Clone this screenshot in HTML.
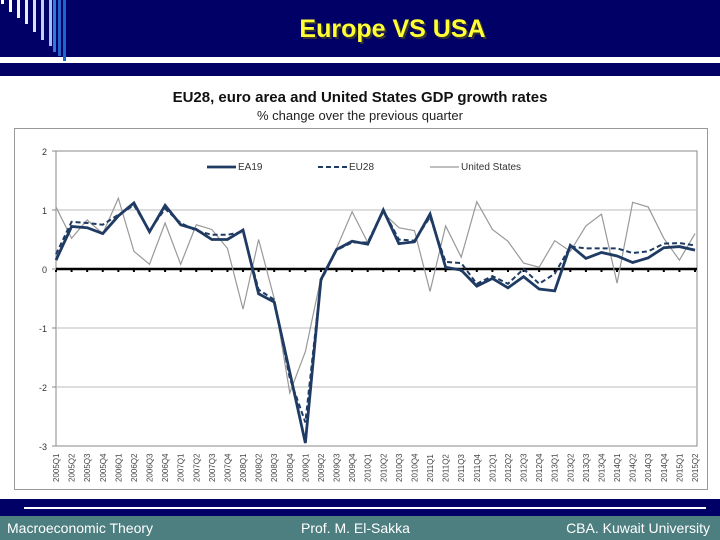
<!DOCTYPE html>
<html><head><meta charset="utf-8"><style>
body{margin:0;width:720px;height:540px;overflow:hidden;background:#fff;font-family:"Liberation Sans",sans-serif;position:relative}
.abs{position:absolute}
</style></head><body>
<div class="abs" style="left:0;top:0;width:720px;height:57px;background:#000066"></div>
<div class="abs" style="left:0;top:57px;width:720px;height:6px;background:#fff"></div>
<div class="abs" style="left:0;top:63px;width:720px;height:13px;background:#000066"></div>
<svg class="abs" style="left:0;top:0" width="80" height="64">
<rect x="1" y="0" width="3" height="4" fill="#fff"/>
<rect x="9" y="0" width="3" height="12" fill="#fff"/>
<rect x="17" y="0" width="3" height="18" fill="#f4f4ff"/>
<rect x="25" y="0" width="3" height="24" fill="#e8eeff"/>
<rect x="33" y="0" width="3" height="32" fill="#d6e2ff"/>
<rect x="41" y="0" width="3" height="40" fill="#bcd0ff"/>
<rect x="49" y="0" width="3" height="46" fill="#9fbfff"/>
<rect x="53" y="0" width="3" height="52" fill="#3377dd"/>
<rect x="58" y="0" width="3" height="56" fill="#2266cc"/>
<rect x="63" y="0" width="3" height="61" fill="#1a66cc"/>
</svg>
<div class="abs" style="left:0;width:720px;top:15px;text-align:center;padding-left:65px;box-sizing:border-box;font-size:25px;font-weight:bold;color:#ffff33;text-shadow:2px 2px 0 #333">Europe VS USA</div>
<div class="abs" style="left:14px;top:128px;width:694px;height:362px;border:1px solid #999;box-sizing:border-box"></div>
<div class="abs" style="left:0;width:720px;top:89px;text-align:center;font-size:15px;font-weight:bold;color:#111">EU28, euro area and United States GDP growth rates</div>
<div class="abs" style="left:0;width:720px;top:108px;text-align:center;font-size:13px;color:#222">% change over the previous quarter</div>
<svg id="chart" class="abs" style="left:0;top:0" width="720" height="540"></svg>
<div class="abs" style="left:0;top:499px;width:720px;height:17px;background:#000066"></div>
<div class="abs" style="left:24px;top:507px;width:682px;height:2px;background:#fff"></div>
<div class="abs" style="left:0;top:516px;width:720px;height:24px;background:#4e7f80"></div>
<div class="abs" style="left:7px;top:520px;font-size:14px;color:#fff">Macroeconomic Theory</div>
<div class="abs" style="left:301px;top:520px;font-size:14px;color:#fff">Prof. M. El-Sakka</div>
<div class="abs" style="right:10px;top:520px;font-size:14px;color:#fff">CBA. Kuwait University</div>
<script>
const categories=[];for(let y=2005;y<=2015;y++)for(let q=1;q<=4;q++){if(y===2015&&q>2)break;categories.push(y+'Q'+q);}
const ea19=[0.15,0.72,0.7,0.6,0.9,1.12,0.63,1.08,0.75,0.67,0.5,0.5,0.66,-0.42,-0.56,-1.75,-2.95,-0.18,0.33,0.47,0.42,1.0,0.43,0.46,0.93,0.03,-0.02,-0.29,-0.16,-0.32,-0.13,-0.34,-0.37,0.4,0.18,0.28,0.22,0.11,0.19,0.36,0.38,0.32];
const eu28=[0.25,0.8,0.78,0.75,0.92,1.08,0.65,1.02,0.78,0.65,0.58,0.58,0.63,-0.35,-0.52,-1.85,-2.6,-0.2,0.32,0.45,0.45,1.0,0.5,0.48,0.88,0.12,0.1,-0.25,-0.12,-0.25,0.0,-0.25,-0.08,0.38,0.35,0.35,0.35,0.27,0.3,0.43,0.44,0.4];
const usa=[1.05,0.52,0.83,0.6,1.2,0.3,0.08,0.78,0.08,0.75,0.67,0.35,-0.68,0.5,-0.5,-2.1,-1.4,-0.15,0.35,0.97,0.45,0.95,0.7,0.65,-0.38,0.73,0.2,1.14,0.67,0.47,0.1,0.03,0.48,0.3,0.73,0.93,-0.24,1.13,1.05,0.52,0.15,0.6];
const yTicks=[2,1,0,-1,-2,-3];
const NS='http://www.w3.org/2000/svg';
const svg=document.getElementById('chart');
const X0=56,X1=695,Y0=151,Y1=446;
const xs=i=>X0+(X1-X0)*i/(categories.length-1);
const ys=v=>Y0+(2-v)*(Y1-Y0)/5;
function mk(tag,attrs){const e=document.createElementNS(NS,tag);for(const k in attrs)e.setAttribute(k,attrs[k]);svg.appendChild(e);return e;}
const plot=mk('rect',{x:X0,y:Y0,width:X1-X0+2,height:Y1-Y0,fill:'none',stroke:'#888','stroke-width':1});


yTicks.forEach(t=>{
  if(t!==0&&t!==2&&t!==-3){const g=mk('line',{x1:X0,x2:X1+2,y1:ys(t),y2:ys(t),stroke:'#bbb','stroke-width':1});
  
  }
  const tk=mk('line',{x1:X0-4,x2:X0,y1:ys(t),y2:ys(t),stroke:'#888'});
  
  
  const tx=mk('text',{x:X0-9,y:ys(t)+4,'text-anchor':'end','font-size':9,fill:'#333'});tx.textContent=t;
  
  
});
categories.forEach((c,i)=>{
  const m=mk('rect',{x:xs(i)-1,y:ys(0)+1,width:2,height:2,fill:'#000'});
  
  
  const x=xs(i)+3,y=Y1+36;
  const tx=mk('text',{x:x,y:y,transform:`rotate(-90 ${x} ${y})`,'font-size':8,fill:'#444'});tx.textContent=c;
  
  
});
const zl=mk('line',{x1:X0,x2:X1+2,y1:ys(0),y2:ys(0),stroke:'#000','stroke-width':2.5});


function series(arr,attrs,name){
  const p=mk('polyline',Object.assign({points:arr.map((v,i)=>xs(i)+','+ys(v)).join(' '),fill:'none'},attrs));
  
  
}
series(usa,{stroke:'#999','stroke-width':1.2},'us-line');
series(eu28,{stroke:'#1f3b63','stroke-width':2,'stroke-dasharray':'5,3'},'eu28-line');
series(ea19,{stroke:'#1f3b63','stroke-width':2.8},'ea19-line');
const leg=[['EA19',207,{stroke:'#1f3b63','stroke-width':2.8}],['EU28',318,{stroke:'#1f3b63','stroke-width':2,'stroke-dasharray':'5,3'}],['United States',430,{stroke:'#999','stroke-width':1.2}]];
leg.forEach(([n,x,a])=>{
  const l=mk('line',Object.assign({x1:x,x2:x+29,y1:167,y2:167},a));
  
  
  const t=mk('text',{x:x+31,y:170,'font-size':10,fill:'#333'});t.textContent=n;
  
  
});
</script>
</body></html>
